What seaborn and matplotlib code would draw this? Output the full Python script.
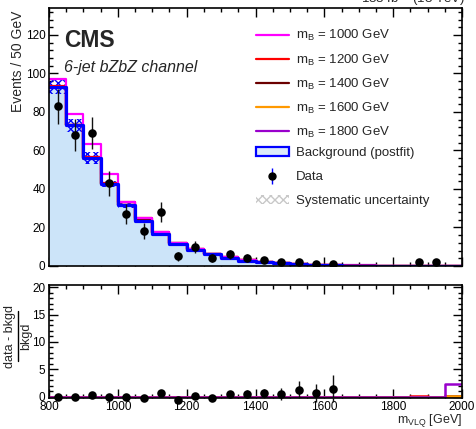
import numpy as np
import pandas as pd
import seaborn as sns
import matplotlib
matplotlib.use("Agg")
import matplotlib.pyplot as plt
from matplotlib.lines import Line2D
from matplotlib.patches import Patch
from matplotlib.ticker import MultipleLocator

# ---------------- data ----------------
bin_edges = [800, 850, 900, 950, 1000, 1050, 1100, 1150, 1200, 1250, 1300, 1350,
             1400, 1450, 1500, 1550, 1600, 1650, 1700, 1750, 1800, 1850, 1900, 1950, 2000]
bin_centers = [825, 875, 925, 975, 1025, 1075, 1125, 1175, 1225, 1275, 1325, 1375,
               1425, 1475, 1525, 1575, 1625, 1675, 1725, 1775, 1825, 1875, 1925, 1975]

background = [93, 73, 56, 42.5, 31.5, 23.5, 16.8, 11.2, 8.3, 6.0, 4.2, 2.8,
              1.9, 1.33, 0.9, 0.62, 0.41, 0, 0, 0, 0, 0, 0, 0]
syst_unc = [3.5, 3.5, 3.0, 1.6, 1.3, 0.9, 0.6, 0.4, 0.3, 0.2, 0.15, 0.1,
            0.08, 0.05, 0.04, 0.03, 0.02, 0, 0, 0, 0, 0, 0, 0]

data = [83, 68, 69, 43, 27, 18, 28, 5, 10, 4, 6, 4,
        3, 2, 2, 1, 1, 0, 0, 0, 0, 2, 2, 0]
data_err = [9.1, 8.2, 8.3, 6.6, 5.2, 4.2, 5.3, 2.2, 3.2, 2.0, 2.4, 2.0,
            1.7, 1.4, 1.4, 1.0, 1.0, 0, 0, 0, 0, 1.4, 1.4, 0]

signal_masses = ["1000", "1200", "1400", "1600", "1800"]
signal_colors = ["#ff00ff", "#ff0000", "#6b0000", "#ff9900", "#9900cc"]
sig_1000 = [4.0, 6.0, 7.5, 5.5, 1.8, 1.2, 1.0, 0.8, 0.6, 0.4, 0.3, 0.2,
            0.15, 0.1, 0.08, 0.05, 0.04, 0.03, 0.02, 0.01, 0, 0, 0, 0]
sig_1200 = [0.3, 0.4, 0.5, 0.7, 1.5, 1.3, 1.0, 0.7, 0.5, 0.4, 0.3, 0.2,
            0.15, 0.1, 0.08, 0.06, 0.05, 0.03, 0.02, 0.02, 0.01, 0.01, 0, 0]
sig_1400 = [0.05, 0.1, 0.1, 0.2, 0.3, 0.4, 0.5, 0.5, 0.4, 0.35, 0.3, 0.2,
            0.15, 0.1, 0.08, 0.05, 0.04, 0.03, 0.02, 0.02, 0.01, 0.01, 0.01, 0]
sig_1600 = [0.02, 0.05, 0.05, 0.1, 0.1, 0.15, 0.2, 0.2, 0.2, 0.2, 0.2, 0.15,
            0.12, 0.1, 0.08, 0.06, 0.05, 0.04, 0.03, 0.02, 0.02, 0.01, 0.01, 0.01]
sig_1800 = [0.01, 0.02, 0.03, 0.05, 0.05, 0.08, 0.1, 0.1, 0.1, 0.1, 0.1, 0.1,
            0.1, 0.08, 0.07, 0.06, 0.05, 0.3, 0.3, 0.2, 0.25, 0.25, 0.2, 0.2]
signals = [sig_1000, sig_1200, sig_1400, sig_1600, sig_1800]

# signal lines in the ratio panel
ratio_1000 = [0, 0, 0, 0, 0, 0, 0, 0, 0, 0, 0, 0, 0, 0, 0, 0, 0, 0, 0, 0, 0, 0, 0, 0]
ratio_1200 = [0, 0, 0, 0, 0, 0, 0, 0, 0, 0, 0, 0, 0, 0, 0, 0, 0, 0, 0, 0, 0, 0.12, 0, 0]
ratio_1400 = [0, 0, 0, 0, 0, 0, 0, 0, 0, 0, 0, 0, 0, 0, 0, 0, 0, 0, 0, 0, 0, 0, 0, 0.08]
ratio_1600 = [0, 0, 0, 0, 0, 0, 0, 0, 0, 0, 0, 0, 0, 0, 0, 0, 0, 0, 0, 0, 0, 0, 0, 0.12]
ratio_1800 = [0, 0, 0, 0, 0, 0, 0, 0, 0, 0, 0, 0, 0, 0, 0, 0, 0, 0, 0, 0, 0, 0, 0, 2.3]
ratio_signals = [ratio_1000, ratio_1200, ratio_1400, ratio_1600, ratio_1800]

# ---------------- style ----------------
sns.set_theme(style="ticks")
plt.rcParams["font.family"] = ["Liberation Sans", "DejaVu Sans"]
plt.rcParams["mathtext.fontset"] = "custom"
plt.rcParams["mathtext.rm"] = "Liberation Sans"
plt.rcParams["mathtext.it"] = "Liberation Sans:italic"
plt.rcParams["mathtext.bf"] = "Liberation Sans:bold"
plt.rcParams["hatch.linewidth"] = 1.0

BKG_FILL = "#cce4f9"
BLUE = "#0000ff"

fig = plt.figure(figsize=(4.76, 4.29), dpi=100)
W, H = 476.0, 429.0
ax1 = fig.add_axes([49 / W, 1 - 266 / H, 413 / W, 258 / H])
ax2 = fig.add_axes([49 / W, 1 - 398 / H, 413 / W, 113 / H])

df = pd.DataFrame({"m": bin_centers, "bkg": background, "data": data,
                   "err": data_err, "unc": syst_unc})

# background fill
sns.histplot(data=df, x="m", weights="bkg", bins=bin_edges, element="step",
             fill=True, color=BKG_FILL, alpha=1, linewidth=0, ax=ax1)

# signal + background lines (draw heaviest last)
for mass, sig, col in reversed(list(zip(signal_masses, signals, signal_colors))):
    tot = np.array(background) + np.array(sig)
    sns.histplot(x=bin_centers, weights=tot, bins=bin_edges, element="step",
                 fill=False, color=col, linewidth=1.6, ax=ax1)

# background line
sns.histplot(data=df, x="m", weights="bkg", bins=bin_edges, element="step",
             fill=False, color=BLUE, linewidth=2.3, ax=ax1)

# systematic uncertainty band
bk = np.array(background)
un = np.array(syst_unc)
lo = np.append(bk - un, (bk - un)[-1])
hi = np.append(bk + un, (bk + un)[-1])
mask = np.append(un > 0, False)
ax1.fill_between(bin_edges, lo, hi, where=mask, step="post", facecolor="none",
                 edgecolor=BLUE, hatch="xxxx", linewidth=0)

# data points
dpos = df[df["data"] > 0]
ax1.errorbar(dpos["m"], dpos["data"], yerr=dpos["err"], fmt="none",
             ecolor="#111111", elinewidth=1.0, capsize=0, zorder=5)
sns.scatterplot(data=dpos, x="m", y="data", color="black", s=38,
                edgecolor="black", linewidth=0, zorder=6, ax=ax1)

ax1.set_xlim(800, 2000)
ax1.set_ylim(0, 134)

# ---------------- ratio panel ----------------
for mass, rs, col in zip(signal_masses, ratio_signals, signal_colors):
    sns.histplot(x=bin_centers, weights=rs, bins=bin_edges, element="step",
                 fill=False, color=col, linewidth=1.8, ax=ax2)

rdf = df[(df["data"] > 0) & (df["bkg"] > 0)].copy()
rdf["ratio"] = (rdf["data"] - rdf["bkg"]) / rdf["bkg"]
rdf["rerr"] = rdf["err"] / rdf["bkg"]
ax2.errorbar(rdf["m"], rdf["ratio"], yerr=rdf["rerr"], fmt="none",
             ecolor="#111111", elinewidth=1.0, capsize=0, zorder=5, clip_on=False)
sns.scatterplot(data=rdf, x="m", y="ratio", color="black", s=38,
                edgecolor="black", linewidth=0, zorder=6, ax=ax2, clip_on=False)

ax2.set_xlim(800, 2000)
ax2.set_ylim(-0.25, 20.4)

# ---------------- axes cosmetics ----------------
for ax in (ax1, ax2):
    for sp in ax.spines.values():
        sp.set_visible(True)
        sp.set_linewidth(1.2)
        sp.set_color("black")
    ax.xaxis.set_major_locator(MultipleLocator(200))
    ax.xaxis.set_minor_locator(MultipleLocator(50))
    ax.tick_params(which="both", direction="in", top=True, right=True,
                   bottom=True, left=True, colors="black", width=1.0,
                   labelsize=8.5, pad=2.5)
    ax.tick_params(which="major", length=6.5)
    ax.tick_params(which="minor", length=3.2)
    ax.grid(False)

ax1.yaxis.set_major_locator(MultipleLocator(20))
ax1.yaxis.set_minor_locator(MultipleLocator(4))
ax1.tick_params(axis="x", labelbottom=False)
ax2.yaxis.set_major_locator(MultipleLocator(5))
ax2.yaxis.set_minor_locator(MultipleLocator(1))

ax1.set_xlabel("")
ax1.set_ylabel("Events / 50 GeV", fontsize=10, loc="top")
ax1.yaxis.set_label_coords(-0.057, 0.99)

# ratio y label drawn as a fraction
ax2.set_ylabel("")
fig.text(10 / W, 1 - 336 / H, "data - bkgd", rotation=90, fontsize=9,
         ha="center", va="center")
fig.add_artist(Line2D([18 / W, 18 / W], [1 - 311 / H, 1 - 361 / H],
                      color="black", linewidth=1.0))
fig.text(26.5 / W, 1 - 336 / H, "bkgd", rotation=90, fontsize=9,
         ha="center", va="center")

ax2.set_xlabel(r"m$_{\mathrm{VLQ}}$ [GeV]", fontsize=9, loc="right")
ax2.xaxis.set_label_coords(1.0, -0.12)

# texts
ax1.text(0.036, 0.849, "CMS", transform=ax1.transAxes, fontsize=16.5,
         fontweight="bold", va="baseline", ha="left")
ax1.text(0.036, 0.752, "6-jet bZbZ channel", transform=ax1.transAxes,
         fontsize=11.5, style="italic", va="baseline", ha="left")
fig.text(465 / W, 1 - 3 / H, r"138 fb$^{-1}$ (13 TeV)", fontsize=9.5,
         ha="right", va="baseline")

# legend (two blocks for even row spacing)
h1 = [Line2D([], [], color=c, linewidth=1.6) for c in signal_colors]
l1 = [r"m$_{\mathrm{B}}$ = %s GeV" % m for m in signal_masses]
h2 = [Patch(facecolor="#ddeafa", edgecolor=BLUE, linewidth=1.6),
      (Line2D([], [], color=BLUE, marker="|", markersize=12,
              linestyle="None", markeredgewidth=1.0),
       Line2D([], [], color="black", marker="o", markersize=5,
              linestyle="None")),
      Patch(facecolor="white", edgecolor="#c8c8c8", hatch="xxxx", linewidth=0)]
l2 = ["Background (postfit)", "Data", "Systematic uncertainty"]
leg_kw = dict(loc="upper left", frameon=False, fontsize=9.5, handlelength=2.5,
              handletextpad=0.55, borderpad=0, borderaxespad=0)
leg1 = ax1.legend(h1, l1, bbox_to_anchor=(0.501, 0.921), labelspacing=0.68,
                  **leg_kw)
ax1.add_artist(leg1)
ax1.legend(h2, l2, bbox_to_anchor=(0.501, 0.462), labelspacing=0.90, **leg_kw)

fig.savefig("out.png", dpi=100)
